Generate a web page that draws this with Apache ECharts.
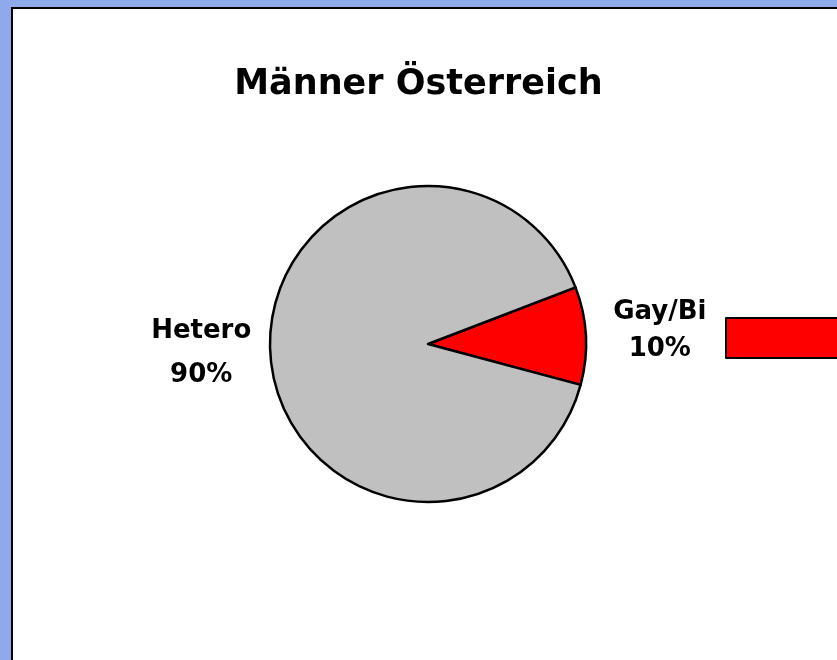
<!DOCTYPE html>
<html>
<head>
<meta charset="utf-8">
<script src="https://cdn.jsdelivr.net/npm/echarts@6/dist/echarts.min.js"></script>
<style>
html, body { margin: 0; padding: 0; width: 837px; height: 660px; overflow: hidden; background: #8eaaea; }
#frame { position: absolute; left: 11px; top: 7px; width: 900px; height: 700px; background: #ffffff; border-left: 2px solid #000; border-top: 2px solid #000; }
#chart { position: absolute; left: 0; top: 0; width: 837px; height: 660px; }
</style>
</head>
<body>
<div id="frame"></div>
<div id="chart"></div>
<script>
const titleText = 'Männer Österreich';
const categories = ['Gay/Bi', 'Hetero'];
const values = [10, 90];
const colors = ['#ff0000', '#c0c0c0'];
const labelLines = [['Gay/Bi', '10%'], ['Hetero', '90%']];

const chart = echarts.init(document.getElementById('chart'), null, { renderer: 'canvas' });

const data = categories.map((c, i) => ({
  name: c,
  value: values[i],
  itemStyle: { color: colors[i] },
  label: { lineHeight: i === 0 ? 37 : 44 }
}));

const option = {
  animation: false,
  backgroundColor: 'transparent',
  title: {
    text: titleText,
    left: 'center',
    top: 62,
    textStyle: { fontFamily: 'DejaVu Sans', fontWeight: 'bold', fontSize: 35, color: '#000' }
  },
  legend: {
    data: ['Gay/Bi'],
    left: 725,
    top: 317,
    padding: 0,
    icon: 'rect',
    itemWidth: 140,
    itemHeight: 40,
    itemStyle: { borderColor: '#000', borderWidth: 2 },
    textStyle: { fontFamily: 'DejaVu Sans', fontWeight: 'bold', fontSize: 20, color: '#000' },
    selectedMode: false
  },
  series: [{
    type: 'pie',
    center: [428, 344],
    radius: 158,
    startAngle: 21,
    clockwise: true,
    avoidLabelOverlap: false,
    emphasis: { disabled: true },
    itemStyle: { borderColor: '#000', borderWidth: 2.5 },
    label: {
      show: true,
      position: 'outside',
      fontFamily: 'DejaVu Sans',
      fontWeight: 'bold',
      fontSize: 26,
      color: '#000',
      distanceToLabelLine: 5,
      formatter: p => labelLines[p.dataIndex].join('\n')
    },
    labelLine: { show: false, length: 5, length2: 5 },
    labelLayout: function (params) {
      if (params.dataIndex === 0) {
        return { align: 'center', dx: 59, dy: -5 };
      }
      return { align: 'center', dx: -54, dy: 1 };
    },
    data: data
  }]
};
chart.setOption(option);
</script>
</body>
</html>
